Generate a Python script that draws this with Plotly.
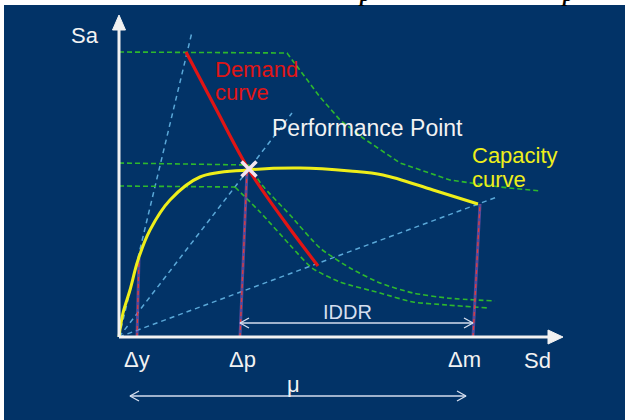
import plotly.graph_objects as go

# ---- data (Sd, Sa in pixel-like units, origin at the axes corner) ----
cap_sd = [0, 4, 11, 19, 31, 51, 81, 128, 181, 231, 264, 314, 359]
cap_sa = [0, 24, 47, 77, 107, 137, 160, 167, 169, 166, 162, 147, 133]

dem_sd = [67, 96, 130, 166, 199]
dem_sa = [285, 230, 167, 115, 71]

g1_sd = [0, 168, 183, 201, 221, 244, 281, 331, 381, 421]
g1_sa = [285, 284, 264, 240, 217, 199, 174, 157, 150, 146]
g2_sd = [0, 130, 143, 171, 201, 231, 261, 294, 328, 376]
g2_sa = [174, 172, 152, 122, 89, 69, 54, 44, 39, 36]
g3_sd = [0, 116, 141, 171, 193, 221, 261, 294, 328, 369]
g3_sa = [151, 150, 125, 92, 69, 55, 44, 35, 32, 29]

ray_end_sd = [73, 173, 378]
ray_end_sa = [305, 224, 140]

mark_names = ["Δy", "Δp", "Δm"]
mark_bot_sd = [18, 121, 354]
mark_top_sd = [20, 128, 361]
mark_top_sa = [79, 166, 133]

perf_sd = [130]
perf_sa = [168]

NAVY = "#023367"
WHITE = "#F2F2F2"
YELLOW = "#EEEE1A"
RED = "#E01515"
GREEN = "#2DB82D"
BLUE = "#5AA8D8"
LIGHT = "#D5DEEE"
FONT = "Liberation Sans, Arial, sans-serif"

fig = go.Figure()

def line(x, y, color, width, dash=None, shape="linear", smoothing=1):
    fig.add_trace(go.Scatter(x=x, y=y, mode="lines",
                             line=dict(color=color, width=width, dash=dash, shape=shape,
                                       smoothing=smoothing),
                             hoverinfo="skip", showlegend=False))

# blue dashed rays from origin
for ex, ey in zip(ray_end_sd, ray_end_sa):
    line([0, ex], [0, ey], BLUE, 1.5, "5px,4px")

# green dashed spectra: straight plateau, then smooth descending branch
line(g1_sd, g1_sa, GREEN, 1.6, "5px,3px")
for gx, gy in [(g2_sd, g2_sa), (g3_sd, g3_sa)]:
    line(gx[:2], gy[:2], GREEN, 1.6, "5px,3px")
    line(gx[1:], gy[1:], GREEN, 1.6, "5px,3px", "spline", 0.6)

# vertical displacement markers
for b, t, h in zip(mark_bot_sd, mark_top_sd, mark_top_sa):
    line([b, t], [0, h], "rgba(140,90,190,0.6)", 3)
    line([b, t], [0, h], "#E03A3A", 1.3, "4px,3px")

# capacity and demand curves
line(cap_sd, cap_sa, YELLOW, 3, shape="spline")
line(dem_sd, dem_sa, RED, 3.2, shape="spline")

# axes
line([0, 0], [0, 308], WHITE, 3)
line([0, 430], [0, 0], WHITE, 3)
fig.add_trace(go.Scatter(x=[-6.5, 6.5, 0, -6.5], y=[307, 307, 322, 307], mode="lines",
                         fill="toself", fillcolor=WHITE, line=dict(color=WHITE, width=1),
                         hoverinfo="skip", showlegend=False))
fig.add_trace(go.Scatter(x=[429, 429, 444, 429], y=[-7, 7, 0, -7], mode="lines",
                         fill="toself", fillcolor=WHITE, line=dict(color=WHITE, width=1),
                         hoverinfo="skip", showlegend=False))

# double arrows (IDDR, mu)
def darrow(x0, x1, y):
    line([x0, x1], [y, y], LIGHT, 1.4)
    line([x0 + 9, x0, x0 + 9], [y + 5, y, y - 5], LIGHT, 1.4)
    line([x1 - 9, x1, x1 - 9], [y + 5, y, y - 5], LIGHT, 1.4)

darrow(mark_top_sd[1] - 7, mark_bot_sd[2], 14)
darrow(11, 347, -59)

# performance point marker
fig.add_trace(go.Scatter(x=perf_sd, y=perf_sa, mode="markers",
                         marker=dict(symbol="x-thin", size=15, line=dict(color="#F3E4F0", width=3.5)),
                         hoverinfo="skip", showlegend=False))

def label(x, y, text, color=WHITE, size=22, xanchor="center"):
    fig.add_annotation(x=x, y=y, text=text, showarrow=False, xanchor=xanchor, yanchor="middle",
                       font=dict(family=FONT, size=size, color=color))

label(-34, 302, "Sa")
label(418, -23, "Sd")
for name, b, dx in zip(mark_names, mark_bot_sd, [0, 2, -9]):
    label(b + dx, -22, name)
label(174, -47, "μ")
label(228, 25, "IDDR", LIGHT, 20)
label(248, 209, "Performance Point", size=23)
label(94, 268, "Demand", RED, xanchor="left")
label(94, 245, "curve", RED, xanchor="left")
label(351, 182, "Capacity", YELLOW, xanchor="left")
label(351, 158, "curve", YELLOW, xanchor="left")

# clipped caption fragments at the very top (only their descenders are visible)
for px in [362, 567]:
    fig.add_annotation(x=px / 625, y=1, xref="paper", yref="paper", text="<b><i>p</i></b>",
                       showarrow=False, xanchor="center", yanchor="bottom", yshift=-3,
                       font=dict(family="Liberation Serif, Times New Roman, serif", size=20, color="black"))

fig.update_layout(
    width=625, height=420,
    margin=dict(l=4, r=0, t=5, b=0),
    paper_bgcolor="white", plot_bgcolor=NAVY,
    xaxis=dict(range=[-115, 506], visible=False, fixedrange=True),
    yaxis=dict(range=[-83, 332], visible=False, fixedrange=True),
    showlegend=False,
)

fig.write_html("out.html", config={"displayModeBar": False},
               post_script="document.body.style.margin='0px';")
